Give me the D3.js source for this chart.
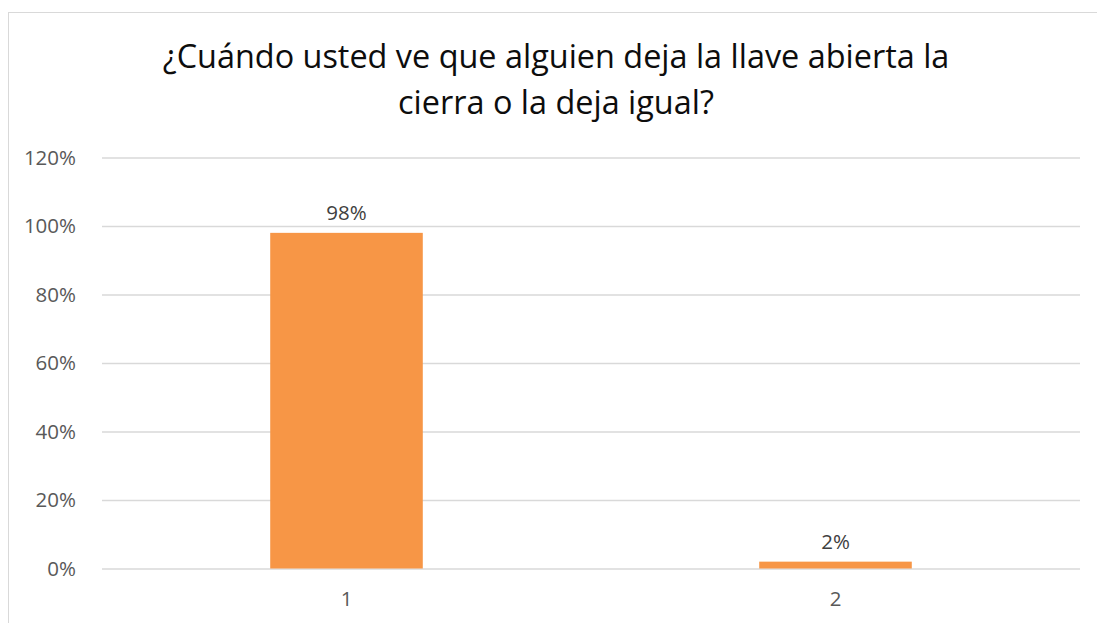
<!DOCTYPE html>
<html>
<head>
<meta charset="utf-8">
<script src="https://cdn.jsdelivr.net/npm/d3@7"></script>
<style>
  html, body { margin: 0; padding: 0; background: #fff; }
  svg { display: block; font-family: 'Open Sans', sans-serif; }
</style>
</head>
<body>
<svg id="chart"></svg>
<script>
const titleLines = ['¿Cuándo usted ve que alguien deja la llave abierta la', 'cierra o la deja igual?'];
const categories = ['1', '2'];
const values = [0.98, 0.02];
const yTicks = [0, 0.2, 0.4, 0.6, 0.8, 1.0, 1.2];

const W = 1097, H = 623;
const margin = { top: 157.5, right: 17, bottom: 54.5, left: 102 };
const width = W - margin.left - margin.right,
  height = H - margin.top - margin.bottom;

const svg = d3.select('#chart').attr('width', W).attr('height', H);

// chart area border (runs off the right/bottom edge)
svg.append('rect')
  .attr('x', 8.5).attr('y', 12.5)
  .attr('width', W + 20).attr('height', H + 20)
  .attr('fill', '#fff')
  .attr('stroke', '#d9d9d9');

// title
const title = svg.append('text')
  .attr('text-anchor', 'middle')
  .attr('fill', '#0d0d0d')
  .style('font-size', '28px');
titleLines.forEach((t, i) => {
  title.append('tspan')
    .attr('x', 556)
    .attr('y', 68 + i * 46)
    .text(t);
});
// fit first line width to reference
const firstLen = title.select('tspan').node().getComputedTextLength();
title.style('font-size', (28 * 787 / firstLen).toFixed(2) + 'px');

const g = svg.append('g')
  .attr('transform', `translate(${margin.left},${margin.top})`);

const x = d3.scaleBand()
  .domain(categories)
  .range([0, width])
  .paddingInner(0.688)
  .paddingOuter(0.344);

const y = d3.scaleLinear().domain([0, 1.2]).range([height, 0]);

// gridlines
g.append('g')
  .call(d3.axisLeft(y).tickValues(yTicks).tickSize(-width).tickFormat(''))
  .call(a => a.select('.domain').remove())
  .call(a => a.selectAll('line').attr('stroke', '#d9d9d9').attr('stroke-width', 1.3));

// y labels
g.append('g')
  .attr('transform', 'translate(-23,0)')
  .call(d3.axisLeft(y).tickValues(yTicks).tickSize(0).tickFormat(d3.format('.0%')))
  .call(a => a.select('.domain').remove())
  .call(a => a.selectAll('text')
    .attr('fill', '#595959')
    .style('font-size', '20.5px')
    .style('font-family', "'Open Sans', sans-serif"));

// bars
g.selectAll('.bar')
  .data(values)
  .enter()
  .append('rect')
  .attr('class', 'bar')
  .attr('x', (d, i) => x(categories[i]))
  .attr('width', x.bandwidth())
  .attr('y', d => y(d))
  .attr('height', d => height - y(d))
  .attr('fill', '#f79646');

// data labels
g.selectAll('.lbl')
  .data(values)
  .enter()
  .append('text')
  .attr('class', 'lbl')
  .attr('x', (d, i) => x(categories[i]) + x.bandwidth() / 2)
  .attr('y', d => y(d) - 13)
  .attr('text-anchor', 'middle')
  .attr('fill', '#404040')
  .style('font-size', '20.5px')
  .text(d => d3.format('.0%')(d));

// x labels
g.append('g')
  .attr('transform', `translate(0,${height})`)
  .call(d3.axisBottom(x).tickSize(0).tickPadding(23))
  .call(a => a.select('.domain').remove())
  .call(a => a.selectAll('text')
    .attr('fill', '#595959')
    .style('font-size', '20.5px')
    .style('font-family', "'Open Sans', sans-serif"));
</script>
</body>
</html>
